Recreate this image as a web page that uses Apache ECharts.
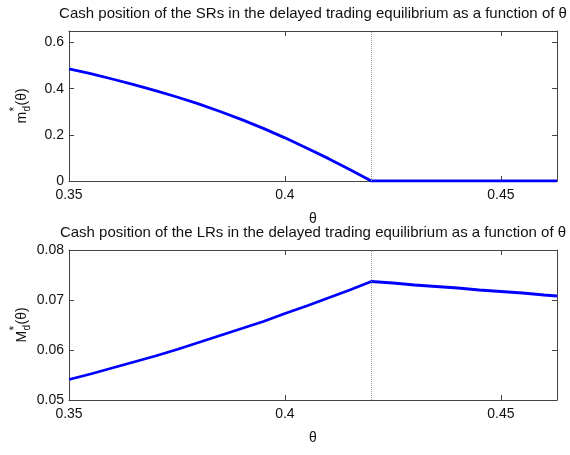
<!DOCTYPE html>
<html>
<head>
<meta charset="utf-8">
<script src="https://cdn.jsdelivr.net/npm/echarts@6/dist/echarts.min.js"></script>
<style>
  html, body { margin: 0; padding: 0; background: #fff; }
  #chart { width: 570px; height: 455px; }
</style>
</head>
<body>
<div id="chart"></div>
<script>
// theta grid
var theta = [0.35, 0.355, 0.36, 0.365, 0.37, 0.375, 0.38, 0.385, 0.39, 0.395, 0.40,
  0.405, 0.41, 0.415, 0.42, 0.425, 0.43, 0.435, 0.44, 0.445, 0.45, 0.455, 0.46, 0.463];
// cash position of the SRs
var srCash = [0.486, 0.465, 0.442, 0.418, 0.392, 0.364, 0.334, 0.301, 0.266, 0.228, 0.187,
  0.143, 0.098, 0.050, 0, 0, 0, 0, 0, 0, 0, 0, 0, 0];
// cash position of the LRs
var lrCash = [0.0541, 0.0552, 0.0564, 0.0576, 0.0588, 0.0601, 0.0615, 0.0629, 0.0643, 0.0657, 0.0673,
  0.0688, 0.0704, 0.0720, 0.0737, 0.0734, 0.0730, 0.0727, 0.0724, 0.0720, 0.0717, 0.0714, 0.0710, 0.0708];
var thetaStar = 0.42;
var xTicks = [0.35, 0.4, 0.45];
var srTicks = [0, 0.2, 0.4, 0.6];
var lrTicks = [0.05, 0.06, 0.07, 0.08];
var titles = [
  "Cash position of the SRs in the delayed trading equilibrium as a function of θ",
  "Cash position of the LRs in the delayed trading equilibrium as a function of θ"
];

var FONT = "Liberation Sans, Arial, sans-serif";
var boxColor = "#444";

function onTick(list, digits) {
  return function (v) {
    for (var i = 0; i < list.length; i++) {
      if (Math.abs(v - list[i]) < 1e-9) return digits ? list[i].toFixed(digits) : String(list[i]);
    }
    return "";
  };
}

function xAxisFor(grid, pos, labels) {
  return {
    type: "value", gridIndex: grid, position: pos,
    min: 0.35, max: 0.463, interval: 0.05,
    name: labels ? "θ" : "", nameLocation: "middle", nameGap: 31,
    nameTextStyle: { fontFamily: FONT, fontSize: 14, color: "#111" },
    axisLine: { show: true, onZero: false, lineStyle: { color: boxColor, width: 1 } },
    axisTick: { show: true, inside: true, length: 5, lineStyle: { color: boxColor } },
    axisLabel: { show: labels, margin: 7, fontFamily: FONT, fontSize: 14, color: "#111",
      formatter: onTick(xTicks), showMaxLabel: true, showMinLabel: true },
    splitLine: { show: false }
  };
}

function yAxisFor(grid, pos, labels, min, max, step, ticks, digits) {
  return {
    type: "value", gridIndex: grid, position: pos,
    min: min, max: max, interval: step,
    axisLine: { show: true, onZero: false, lineStyle: { color: boxColor, width: 1 } },
    axisTick: { show: true, inside: true, length: 5, lineStyle: { color: boxColor } },
    axisLabel: { show: labels, margin: 5, fontFamily: FONT, fontSize: 14, color: "#111",
      formatter: onTick(ticks, digits), showMaxLabel: true, showMinLabel: true },
    splitLine: { show: false }
  };
}

function yName(cx, cy, big) {
  return {
    type: "group", x: cx, y: cy, rotation: Math.PI / 2,
    children: [
      { type: "text", x: -17.5, y: 0, style: { text: big, font: "14px " + FONT, fill: "#111", textVerticalAlign: "middle" } },
      { type: "text", x: -5.5, y: -7, style: { text: "*", font: "12px " + FONT, fill: "#111", textVerticalAlign: "middle" } },
      { type: "text", x: -5.5, y: 5, style: { text: "d", font: "10px " + FONT, fill: "#111", textVerticalAlign: "middle" } },
      { type: "text", x: 0.5, y: 0, style: { text: "(θ)", font: "14px " + FONT, fill: "#111", textVerticalAlign: "middle" } }
    ]
  };
}

function lineSeries(xi, yi, values) {
  return {
    type: "line", xAxisIndex: xi, yAxisIndex: yi,
    data: theta.map(function (t, i) { return [t, values[i]]; }),
    showSymbol: false, smooth: false,
    lineStyle: { color: "#0000ff", width: 2.8 },
    itemStyle: { color: "#0000ff" },
    markLine: {
      silent: true, symbol: "none", label: { show: false },
      lineStyle: { color: "#999", type: "dotted", width: 1 },
      data: [{ xAxis: thetaStar }]
    },
    z: 3
  };
}

var chart = echarts.init(document.getElementById("chart"));
chart.setOption({
  animation: false,
  backgroundColor: "#fff",
  title: [
    { text: titles[0], left: 313, top: 6, padding: 0, textAlign: "center",
      textStyle: { fontFamily: FONT, fontSize: 15, fontWeight: "normal", color: "#111" } },
    { text: titles[1], left: 313, top: 225, padding: 0, textAlign: "center",
      textStyle: { fontFamily: FONT, fontSize: 15, fontWeight: "normal", color: "#111" } }
  ],
  grid: [
    { left: 69, top: 31, width: 488, height: 150 },
    { left: 69, top: 250, width: 488, height: 150 }
  ],
  xAxis: [
    xAxisFor(0, "bottom", true),
    xAxisFor(0, "top", false),
    xAxisFor(1, "bottom", true),
    xAxisFor(1, "top", false)
  ],
  yAxis: [
    yAxisFor(0, "left", true, 0, 0.65, 0.2, srTicks, 0),
    yAxisFor(0, "right", false, 0, 0.65, 0.2, srTicks, 0),
    yAxisFor(1, "left", true, 0.05, 0.08, 0.01, lrTicks, 2),
    yAxisFor(1, "right", false, 0.05, 0.08, 0.01, lrTicks, 2)
  ],
  graphic: [
    yName(22, 106, "m"),
    yName(22, 325, "M")
  ],
  series: [
    lineSeries(0, 0, srCash),
    lineSeries(2, 2, lrCash)
  ]
});
</script>
</body>
</html>
